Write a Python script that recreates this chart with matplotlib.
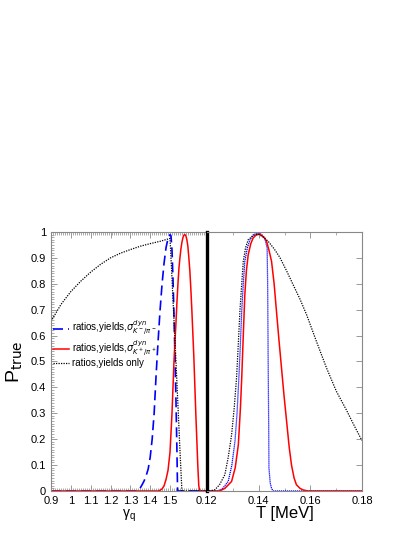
import numpy as np
import matplotlib.pyplot as plt
from matplotlib.ticker import MultipleLocator

plt.rcParams['font.family'] = ['Liberation Sans', 'DejaVu Sans']

# left panel: P_true vs gamma_q
g_blue = [0.90, 1.33, 1.34, 1.35, 1.36, 1.37, 1.38, 1.39, 1.40, 1.41, 1.42, 1.43, 1.44, 1.45, 1.46,
          1.47, 1.48, 1.49, 1.50, 1.505, 1.51, 1.515, 1.52, 1.525, 1.53, 1.535, 1.538, 1.685]
p_blue = [0.0, 0.0, 0.005, 0.012, 0.025, 0.04, 0.06, 0.085, 0.13, 0.20, 0.30, 0.45, 0.58, 0.70, 0.80,
          0.88, 0.94, 0.975, 0.99, 0.985, 0.93, 0.82, 0.68, 0.52, 0.35, 0.15, 0.0, 0.0]

g_red = [0.90, 1.44, 1.45, 1.46, 1.47, 1.48, 1.49, 1.50, 1.51, 1.52, 1.525, 1.53, 1.535, 1.54, 1.545,
         1.55, 1.555, 1.56, 1.565, 1.57, 1.575, 1.58, 1.585, 1.59, 1.595, 1.60, 1.605, 1.61, 1.615,
         1.62, 1.625, 1.63, 1.635, 1.64, 1.645, 1.65, 1.685]
p_red = [0.0, 0.0, 0.003, 0.008, 0.02, 0.045, 0.08, 0.15, 0.30, 0.50, 0.58, 0.65, 0.73, 0.80, 0.86,
         0.90, 0.935, 0.96, 0.978, 0.988, 0.99, 0.985, 0.97, 0.945, 0.90, 0.85, 0.78, 0.70, 0.61,
         0.52, 0.41, 0.30, 0.20, 0.10, 0.02, 0.0, 0.0]

g_black = [0.90, 0.95, 1.00, 1.05, 1.10, 1.15, 1.20, 1.25, 1.30, 1.35, 1.40, 1.45, 1.50,
           1.51, 1.52, 1.53, 1.54, 1.55, 1.56, 1.685]
p_black = [0.655, 0.72, 0.77, 0.81, 0.845, 0.875, 0.90, 0.918, 0.932, 0.945, 0.955, 0.964, 0.975,
           0.82, 0.66, 0.50, 0.33, 0.16, 0.0, 0.0]

# right panel: P_true vs T [MeV]
t_blue = [0.120, 0.124, 0.126, 0.1283, 0.1297, 0.1309, 0.1317, 0.1324, 0.133, 0.1335, 0.1341, 0.1347,
          0.1357, 0.1367, 0.138, 0.1399, 0.1412, 0.1424, 0.1433, 0.1435, 0.1437, 0.1439, 0.144,
          0.1445, 0.145, 0.1456, 0.180]
q_blue = [0.0, 0.0, 0.008, 0.037, 0.10, 0.192, 0.30, 0.436, 0.57, 0.694, 0.80, 0.887,
          0.94, 0.970, 0.99, 0.996, 0.99, 0.977, 0.938, 0.80, 0.50, 0.25, 0.089,
          0.03, 0.01, 0.0, 0.0]

t_red = [0.120, 0.125, 0.127, 0.1296, 0.131, 0.1322, 0.133, 0.1335, 0.1341, 0.1347, 0.1353, 0.136,
         0.137, 0.1379, 0.139, 0.1405, 0.142, 0.1431, 0.144, 0.145, 0.146, 0.1469, 0.1478, 0.1488,
         0.1498, 0.1508, 0.1518, 0.1527, 0.1537, 0.1546, 0.156, 0.1572, 0.159, 0.180]
q_red = [0.0, 0.0, 0.01, 0.037, 0.09, 0.179, 0.32, 0.436, 0.60, 0.758, 0.85, 0.912,
         0.955, 0.977, 0.988, 0.992, 0.98, 0.964, 0.93, 0.887, 0.80, 0.694, 0.59, 0.48,
         0.37, 0.27, 0.17, 0.10, 0.05, 0.024, 0.01, 0.004, 0.0, 0.0]

t_black = [0.120, 0.1215, 0.1232, 0.125, 0.127, 0.1283, 0.1296, 0.1306, 0.1315, 0.1322, 0.1328,
           0.1335, 0.1341, 0.135, 0.136, 0.138, 0.1399, 0.1418, 0.1437, 0.146, 0.1482, 0.1508,
           0.1533, 0.156, 0.1585, 0.1623, 0.1662, 0.170, 0.1738, 0.177, 0.1797, 0.180]
q_black = [0.0, 0.001, 0.005, 0.025, 0.063, 0.13, 0.217, 0.32, 0.436, 0.57, 0.694,
           0.80, 0.887, 0.94, 0.970, 0.987, 0.992, 0.98, 0.964, 0.935, 0.902, 0.85,
           0.797, 0.74, 0.681, 0.578, 0.475, 0.385, 0.314, 0.25, 0.198, 0.195]

labels = [r'ratios,yields,$\sigma^{dyn}_{K^-/\pi^-}$',
          r'ratios,yields,$\sigma^{dyn}_{K^+/\pi^+}$',
          'ratios,yields only']

fig = plt.figure(figsize=(4.14, 5.36), dpi=100)
ax1 = fig.add_axes([0.1232, 0.0840, 0.3761, 0.4832])
ax2 = fig.add_axes([0.4993, 0.0840, 0.3758, 0.4832])

ax1.plot(g_blue, p_blue, color='blue', ls=(0, (6, 3)), lw=1.2, label=labels[0])
ax1.plot(g_red, p_red, color='red', lw=1.1, label=labels[1])
ax1.plot(g_black, p_black, color='black', ls=(0, (1, 1)), lw=0.9, label=labels[2])

ax2.plot(t_blue, q_blue, color='blue', ls=(0, (1, 0.6)), lw=0.9)
ax2.plot(t_red, q_red, color='red', lw=1.1)
ax2.plot(t_black, q_black, color='black', ls=(0, (1, 1)), lw=0.9)

ax1.set_xlim(0.9, 1.685)
ax2.set_xlim(0.12, 0.18)
for ax in (ax1, ax2):
    ax.set_ylim(0, 1)
    for s in ax.spines.values():
        s.set_color('#888888')
        s.set_linewidth(0.8)
    ax.tick_params(which='both', direction='in', colors='#888888', labelcolor='black', labelsize=8)
    ax.tick_params(which='major', length=4, width=0.6)
    ax.tick_params(which='minor', length=2, width=0.5)

ax1.spines['right'].set_visible(False)
ax2.spines['left'].set_color('black')
ax2.spines['left'].set_linewidth(2.4)

ax1.set_xticks([0.9, 1.0, 1.1, 1.2, 1.3, 1.4, 1.5])
ax1.set_xticklabels(['0.9', '1', '1.1', '1.2', '1.3', '1.4', '1.5'])
ax1.xaxis.set_minor_locator(MultipleLocator(0.01))
ax1.set_yticks(np.arange(0, 1.01, 0.1))
ax1.set_yticklabels(['0', '0.1', '0.2', '0.3', '0.4', '0.5', '0.6', '0.7', '0.8', '0.9', '1'])
ax1.yaxis.set_minor_locator(MultipleLocator(0.01))
ax1.tick_params(which='both', top=True, right=False)

ax2.set_xticks([0.12, 0.14, 0.16, 0.18])
ax2.set_xticklabels(['0.12', '0.14', '0.16', '0.18'])
ax2.xaxis.set_minor_locator(MultipleLocator(0.01))
ax2.set_yticks(np.arange(0, 1.01, 0.1))
ax2.tick_params(which='both', top=True, left=False, right=True, labelleft=False)

ax1.set_ylabel(r'P$_{\rm true}$', fontsize=14, labelpad=4)
ax1.set_xlabel(r'$\mathregular{\gamma_q}$', fontsize=10, labelpad=1)
ax2.set_xlabel('T [MeV]', fontsize=12, labelpad=0)

ax1.legend(loc='upper left', bbox_to_anchor=(-0.03, 0.69), frameon=False, fontsize=7,
           handlelength=1.6, handletextpad=0.3, labelspacing=0.0, borderpad=0.2)

fig.savefig('out.png', dpi=100)
